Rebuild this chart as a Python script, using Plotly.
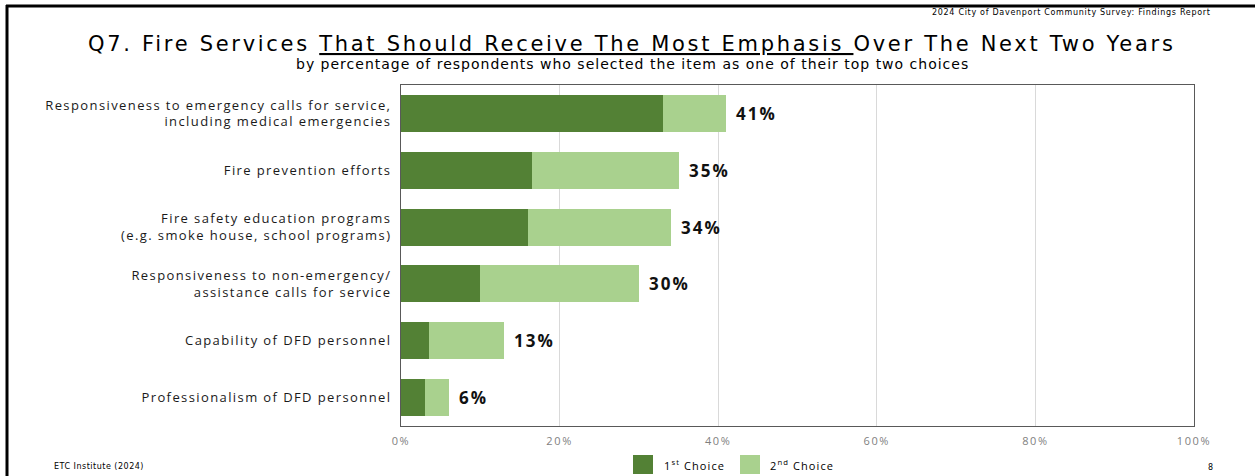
import plotly.graph_objects as go

# Survey items, top to bottom
items = [
    "Responsiveness to emergency calls for service,<br>including medical emergencies",
    "Fire prevention efforts",
    "Fire safety education programs<br>(e.g. smoke house, school programs)",
    "Responsiveness to non-emergency/<br>assistance calls for service",
    "Capability of DFD personnel",
    "Professionalism of DFD personnel",
]
first_choice = [33.0, 16.5, 16.0, 10.0, 3.5, 3.0]
second_choice = [8.0, 18.5, 18.0, 20.0, 9.5, 3.0]
totals = [a + b for a, b in zip(first_choice, second_choice)]

x_ticks = [0, 20, 40, 60, 80, 100]
x_tick_labels = ["0%", "20%", "40%", "60%", "80%", "100%"]

DARK = "#538135"
LIGHT = "#a9d18e"
BODY_FONT = "Open Sans"
HEAD_FONT = "DejaVu Sans"

# plot-area geometry (pixels) used to place page furniture in paper coords
W, H = 1255, 476
L, R, T, B = 401, 61, 85, 50
pw, ph = W - L - R, H - T - B


def px(x):
    return (x - L) / pw


def py(y):
    return (H - B - y) / ph


def spaced(text, ls):
    """Wrap every line of a label in a span with extra letter spacing."""
    return "<br>".join(
        f'<span style="letter-spacing:{ls}px">{line}</span>'
        for line in text.split("<br>")
    )


fig = go.Figure()
fig.add_trace(go.Bar(
    y=items, x=first_choice, orientation="h", name="1st Choice",
    marker=dict(color=DARK, line=dict(width=0)), width=0.65,
))
fig.add_trace(go.Bar(
    y=items, x=second_choice, orientation="h", name="2nd Choice",
    marker=dict(color=LIGHT, line=dict(width=0)), width=0.65,
))

annotations = []
for item, tot in zip(items, totals):
    annotations.append(dict(
        x=tot, y=item, xref="x", yref="y",
        text=spaced(f"<b>{tot:.0f}%</b>", 2.0),
        showarrow=False, xanchor="left", yanchor="middle", xshift=8,
        font=dict(family=BODY_FONT, size=17, color="#111111"),
    ))

# title and subtitle
annotations.append(dict(
    x=px(632), y=py(44), xref="paper", yref="paper", showarrow=False,
    xanchor="center", yanchor="middle",
    text=spaced("Q7. Fire Services <u>That Should Receive The Most Emphasis </u>"
                "Over The Next Two Years", 2.7),
    font=dict(family=HEAD_FONT, size=21, color="#000000"),
))
annotations.append(dict(
    x=px(632), y=py(64), xref="paper", yref="paper", showarrow=False,
    xanchor="center", yanchor="middle",
    text=spaced("by percentage of respondents who selected the item as one "
                "of their top two choices", 1.0),
    font=dict(family=HEAD_FONT, size=14, color="#000000"),
))
# header / footer
annotations.append(dict(
    x=px(1213), y=py(13), xref="paper", yref="paper", showarrow=False,
    xanchor="right", yanchor="middle",
    text=spaced("2024 City of Davenport Community Survey: Findings Report", 0.7),
    font=dict(family=HEAD_FONT, size=8, color="#000000"),
))
annotations.append(dict(
    x=px(52), y=py(467), xref="paper", yref="paper", showarrow=False,
    xanchor="left", yanchor="middle",
    text=spaced("ETC Institute (2024)", 0.5),
    font=dict(family=HEAD_FONT, size=8, color="#000000"),
))
annotations.append(dict(
    x=px(1210), y=py(468), xref="paper", yref="paper", showarrow=False,
    xanchor="center", yanchor="middle", text="8",
    font=dict(family=HEAD_FONT, size=8, color="#000000"),
))
# legend text
annotations.append(dict(
    x=px(662), y=py(465), xref="paper", yref="paper", showarrow=False,
    xanchor="left", yanchor="middle",
    text=spaced("1<sup>st</sup> Choice", 1.1),
    font=dict(family=BODY_FONT, size=11, color="#000000"),
))
annotations.append(dict(
    x=px(768), y=py(465), xref="paper", yref="paper", showarrow=False,
    xanchor="left", yanchor="middle",
    text=spaced("2<sup>nd</sup> Choice", 1.1),
    font=dict(family=BODY_FONT, size=11, color="#000000"),
))

shapes = [
    # page border
    dict(type="line", xref="paper", yref="paper", x0=px(6), x1=px(1255),
         y0=py(6), y1=py(6), line=dict(color="#000000", width=3)),
    dict(type="line", xref="paper", yref="paper", x0=px(7), x1=px(7),
         y0=py(5), y1=py(476), line=dict(color="#000000", width=3)),
    # legend swatches
    dict(type="rect", xref="paper", yref="paper", x0=px(633), x1=px(653),
         y0=py(455), y1=py(474), fillcolor=DARK, line=dict(width=0)),
    dict(type="rect", xref="paper", yref="paper", x0=px(740), x1=px(760),
         y0=py(455), y1=py(474), fillcolor=LIGHT, line=dict(width=0)),
]

fig.update_layout(
    width=W, height=H,
    margin=dict(l=L, r=R, t=T, b=B, pad=0),
    barmode="stack", bargap=0.35,
    showlegend=False,
    paper_bgcolor="white", plot_bgcolor="white",
    annotations=annotations, shapes=shapes,
    xaxis=dict(
        range=[0, 100], tickvals=x_ticks,
        ticktext=[spaced(t, 1.6) for t in x_tick_labels],
        showgrid=True, gridcolor="#d9d9d9", gridwidth=1, zeroline=False,
        showline=True, mirror=True, linecolor="#595959", linewidth=1,
        ticks="", ticklabelstandoff=5,
        tickfont=dict(family=BODY_FONT, size=11, color="#7f7f7f"),
    ),
    yaxis=dict(
        autorange="reversed", showgrid=False, zeroline=False,
        tickvals=items, ticktext=[spaced(t, 1.4) for t in items],
        showline=True, mirror=True, linecolor="#595959", linewidth=1,
        ticks="", ticklabelstandoff=6,
        tickfont=dict(family=BODY_FONT, size=13, color="#1a1a1a"),
    ),
)

fig.write_html("out.html")
